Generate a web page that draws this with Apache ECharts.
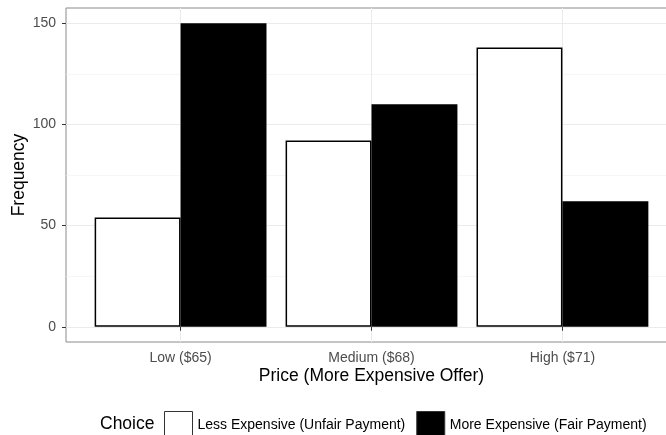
<!DOCTYPE html>
<html>
<head>
<meta charset="utf-8">
<script src="https://cdn.jsdelivr.net/npm/echarts@6/dist/echarts.min.js"></script>
<style>
  html, body { margin: 0; padding: 0; background: #fff; width: 666px; height: 435px; overflow: hidden; }
  #chart { width: 680px; height: 435px; }
</style>
</head>
<body>
<div id="chart"></div>
<script>
// ---- data ----
const categories = ['Low ($65)', 'Medium ($68)', 'High ($71)'];
const seriesNames = ['Less Expensive (Unfair Payment)', 'More Expensive (Fair Payment)'];
const lessExpensive = [54, 92, 138];
const moreExpensive = [150, 110, 62];
const yTicks = [0, 50, 100, 150];
const yMinorTicks = [25, 75, 125];
const catPositions = categories.map((c, i) => i + 1);

const FONT = "'Liberation Sans', Arial, sans-serif";
const chart = echarts.init(document.getElementById('chart'), null, { renderer: 'canvas' });

const toPoints = arr => arr.map((v, i) => [catPositions[i], v]);

const option = {
  animation: false,
  backgroundColor: '#ffffff',
  textStyle: { fontFamily: FONT },
  grid: {
    left: 66, top: 8, right: 3, bottom: 93,
    outerBoundsMode: 'none', containLabel: false,
    show: true, borderColor: '#8a8a8a', borderWidth: 1, backgroundColor: '#ffffff'
  },
  xAxis: [{
    type: 'value', min: 0.4, max: 3.6, position: 'bottom',
    axisLine: { show: false },
    axisTick: { show: true, customValues: catPositions, length: 4, lineStyle: { color: '#333333', width: 1 } },
    axisLabel: {
      customValues: catPositions, margin: 9, fontSize: 14, color: '#4D4D4D', fontFamily: FONT,
      formatter: v => categories[Math.round(v) - 1] || ''
    },
    splitLine: { show: true, lineStyle: { color: '#EBEBEB', width: 1 } },
    name: 'Price (More Expensive Offer)', nameLocation: 'middle', nameGap: 25, nameMoveOverlap: false,
    nameTextStyle: { fontSize: 17.5, color: '#000000', fontFamily: FONT }
  }],
  yAxis: [{
    type: 'value', min: -7.5, max: 157.5, position: 'left',
    axisLine: { show: false },
    axisTick: { show: true, customValues: yTicks, length: 4, lineStyle: { color: '#333333', width: 1 } },
    axisLabel: { customValues: yTicks, margin: 10, fontSize: 14, color: '#4D4D4D', fontFamily: FONT },
    splitLine: { show: true, lineStyle: { color: '#EBEBEB', width: 1 } },
    name: 'Frequency', nameLocation: 'middle', nameGap: 38, nameRotate: 90, nameMoveOverlap: false,
    nameTextStyle: { fontSize: 17.5, color: '#000000', fontFamily: FONT }
  }, {
    type: 'value', min: -7.5, max: 157.5, position: 'right',
    axisLine: { show: false },
    axisTick: { show: false, customValues: yMinorTicks },
    axisLabel: { show: false, customValues: yMinorTicks },
    splitLine: { show: true, lineStyle: { color: '#F2F2F2', width: 0.7 } }
  }],
  legend: {
    left: 164, top: 411, padding: 0,
    itemWidth: 28, itemHeight: 28, itemGap: 11,
    icon: 'rect', selectedMode: false,
    itemStyle: { borderColor: '#333333', borderWidth: 1 },
    textStyle: { fontSize: 14, color: '#000000', fontFamily: FONT },
    data: seriesNames
  },
  graphic: [{
    type: 'text', left: 100, top: 415,
    style: { text: 'Choice', fontSize: 17.5, fill: '#000000', fontFamily: FONT }
  }],
  series: [{
    name: seriesNames[0], type: 'bar', xAxisIndex: 0, yAxisIndex: 0,
    barWidth: '45%', barGap: '0%',
    itemStyle: { color: '#ffffff', borderColor: '#000000', borderWidth: 1.5 },
    data: toPoints(lessExpensive)
  }, {
    name: seriesNames[1], type: 'bar', xAxisIndex: 0, yAxisIndex: 0,
    barWidth: '45%', barGap: '0%',
    itemStyle: { color: '#000000', borderColor: '#000000', borderWidth: 1.5 },
    data: toPoints(moreExpensive)
  }]
};
chart.setOption(option);
</script>
</body>
</html>
